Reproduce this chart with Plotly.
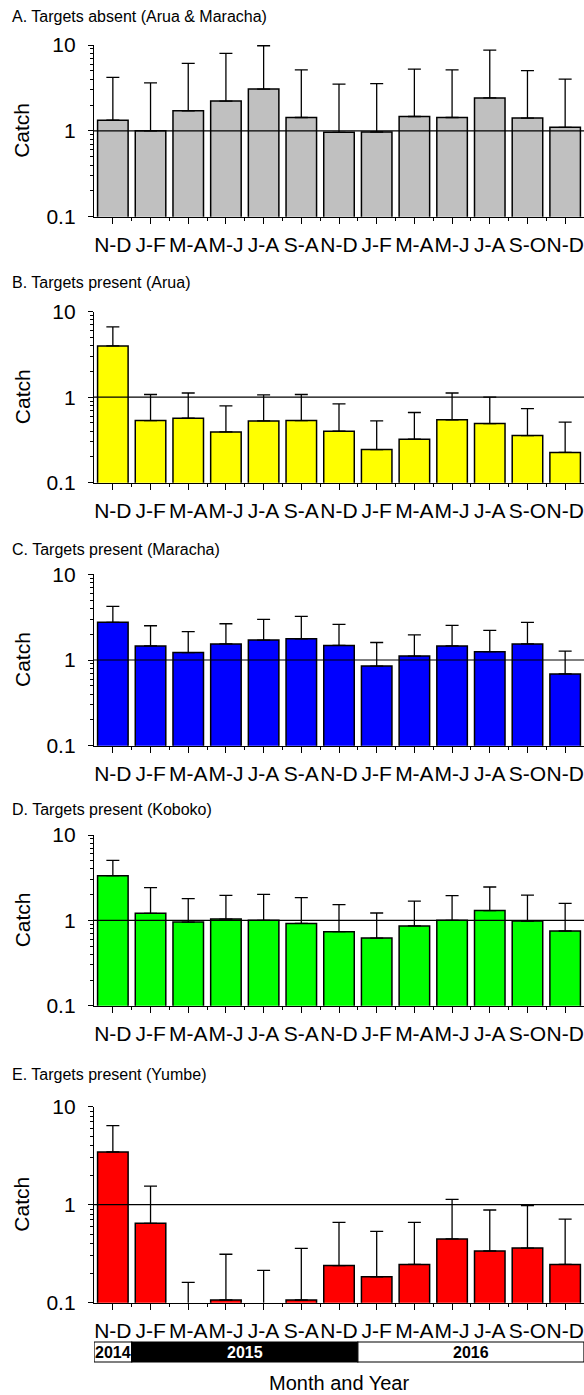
import plotly.graph_objects as go

# ---------------- data ----------------
months = ["N-D", "J-F", "M-A", "M-J", "J-A", "S-A", "N-D", "J-F", "M-A", "M-J", "J-A", "S-O", "N-D"]

titles = [
    "A. Targets absent (Arua & Maracha)",
    "B. Targets present (Arua)",
    "C. Targets present (Maracha)",
    "D. Targets present (Koboko)",
    "E. Targets present (Yumbe)",
]

colors = ["#c0c0c0", "#ffff00", "#0000ff", "#00ff00", "#ff0000"]

# mean catch per period (values below 0.1 fall under the axis floor)
catch_a = [1.33, 1.00, 1.71, 2.22, 3.07, 1.43, 0.96, 0.97, 1.47, 1.43, 2.42, 1.41, 1.10]
catch_b = [3.98, 0.533, 0.568, 0.393, 0.528, 0.533, 0.40, 0.244, 0.323, 0.543, 0.492, 0.356, 0.226]
catch_c = [2.75, 1.46, 1.22, 1.54, 1.71, 1.77, 1.48, 0.85, 1.11, 1.46, 1.25, 1.54, 0.687]
catch_d = [3.34, 1.21, 0.955, 1.035, 1.0, 0.92, 0.736, 0.62, 0.86, 1.0, 1.30, 0.98, 0.75]
catch_e = [3.45, 0.645, 0.05, 0.1065, 0.05, 0.1065, 0.239, 0.184, 0.246, 0.447, 0.337, 0.361, 0.246]

# upper confidence limits
upper_a = [4.2, 3.63, 6.1, 7.98, 9.8, 5.14, 3.5, 3.55, 5.24, 5.12, 8.7, 5.03, 4.0]
upper_b = [6.64, 1.075, 1.12, 0.79, 1.065, 1.075, 0.835, 0.528, 0.662, 1.12, 1.0, 0.737, 0.51]
upper_c = [4.22, 2.51, 2.14, 2.65, 2.98, 3.23, 2.6, 1.6, 1.96, 2.53, 2.22, 2.75, 1.27]
upper_d = [5.05, 2.42, 1.8, 1.96, 2.02, 1.85, 1.53, 1.22, 1.68, 1.95, 2.46, 1.98, 1.58]
upper_e = [6.4, 1.55, 0.161, 0.312, 0.214, 0.359, 0.661, 0.535, 0.661, 1.135, 0.883, 0.98, 0.712]

years = ["2014", "2015", "2016"]
year_first = [0, 1, 7]   # first period index of each year
year_last = [0, 6, 12]   # last period index of each year
year_fill = ["white", "black", "white"]
year_text = ["black", "white", "black"]

ytick_vals = [0.1, 1, 10]
ytick_text = ["0.1", "1", "10"]

catches = [catch_a, catch_b, catch_c, catch_d, catch_e]
uppers = [upper_a, upper_b, upper_c, upper_d, upper_e]

# ---------------- layout geometry (pixels) ----------------
W, H = 584, 1395
FONT = "Liberation Sans, Arial, sans-serif"
x_left = 94
panel_px = [(45, 216.7), (311.7, 482.7), (574.3, 745.7), (835, 1005.7), (1106.7, 1302.7)]
title_px = [16, 282, 549, 809, 1074]


def py(p):
    return 1 - p / H


fig = go.Figure()
x = list(range(len(months)))
minor_x = [i + 0.5 for i in range(len(months))]
minor_y = [k * 0.1 for k in range(2, 10)] + [k * 1.0 for k in range(2, 10)]

annotations = []
shapes = []

for i in range(5):
    n = i + 1
    xa = "x" if n == 1 else f"x{n}"
    ya = "y" if n == 1 else f"y{n}"
    vals = catches[i]
    ups = uppers[i]
    fig.add_trace(go.Bar(
        x=x, y=vals, xaxis=xa, yaxis=ya, width=0.81,
        marker=dict(color=colors[i], line=dict(color="black", width=1.5)),
        error_y=dict(type="data", symmetric=False,
                     array=[u - v for u, v in zip(ups, vals)],
                     arrayminus=[0] * len(vals),
                     color="black", thickness=1.3, width=6.5),
        showlegend=False, hoverinfo="skip",
    ))
    top, bot = panel_px[i]
    fig.layout[f"xaxis{'' if n == 1 else n}"] = dict(
        domain=[x_left / W, 1], anchor=ya, range=[-0.5, 12.5],
        showline=True, linecolor="black", linewidth=1.3,
        ticks="outside", ticklen=6, tickwidth=1.2, tickcolor="black",
        tickvals=x, ticktext=months, tickangle=0,
        tickfont=dict(size=21, color="black", family=FONT),
        ticklabelstandoff=3,
        minor=dict(tickvals=minor_x, ticks="outside", ticklen=3, tickwidth=1.2, tickcolor="black"),
        showgrid=False, zeroline=False, fixedrange=True,
    )
    fig.layout[f"yaxis{'' if n == 1 else n}"] = dict(
        domain=[py(bot), py(top)], anchor=xa, type="log", range=[-1, 1],
        showline=True, linecolor="black", linewidth=1.3,
        ticks="outside", ticklen=5, tickwidth=1.2, tickcolor="black",
        tickvals=ytick_vals, ticktext=ytick_text,
        tickfont=dict(size=21, color="black", family=FONT),
        ticklabelstandoff=8,
        minor=dict(tickvals=minor_y, ticks="outside", ticklen=3, tickwidth=1, tickcolor="black"),
        showgrid=False, zeroline=False, fixedrange=True,
    )
    # reference line at catch = 1
    shapes.append(dict(type="line", xref=f"{xa} domain", x0=0, x1=1, yref=ya, y0=1, y1=1,
                       line=dict(color="black", width=1.2), layer="above"))
    # panel title
    annotations.append(dict(text=titles[i], xref="paper", yref="paper", x=10 / W, y=py(title_px[i]),
                            xanchor="left", yanchor="middle", showarrow=False,
                            font=dict(size=16, color="black", family=FONT)))
    # y-axis title
    annotations.append(dict(text="Catch", xref="paper", yref="paper", x=22 / W, y=py((top + bot) / 2),
                            xanchor="center", yanchor="middle", textangle=-90, showarrow=False,
                            font=dict(size=21, color="black", family=FONT)))

# year bar under bottom panel
bar_top, bar_bot = 1342, 1362
for yr, a, b, fc, tc in zip(years, year_first, year_last, year_fill, year_text):
    shapes.append(dict(type="rect", xref="x5", yref="paper", x0=a - 0.5, x1=b + 0.5,
                       y0=py(bar_bot), y1=py(bar_top), fillcolor=fc,
                       line=dict(color="black", width=1.2), layer="above"))
    annotations.append(dict(text=f"<b>{yr}</b>", xref="x5", yref="paper", x=(a + b) / 2,
                            y=py((bar_top + bar_bot) / 2), xanchor="center", yanchor="middle",
                            showarrow=False, font=dict(size=16, color=tc, family=FONT)))

annotations.append(dict(text="Month and Year", xref="paper", yref="paper", x=(x_left + W) / 2 / W,
                        y=py(1383), xanchor="center", yanchor="middle", showarrow=False,
                        font=dict(size=20, color="black", family=FONT)))

fig.update_layout(
    width=W, height=H, margin=dict(l=0, r=0, t=0, b=0),
    paper_bgcolor="white", plot_bgcolor="white", template="none",
    annotations=annotations, shapes=shapes, bargap=0.19,
    font=dict(family=FONT, color="black"),
)

fig.write_html("out.html")
